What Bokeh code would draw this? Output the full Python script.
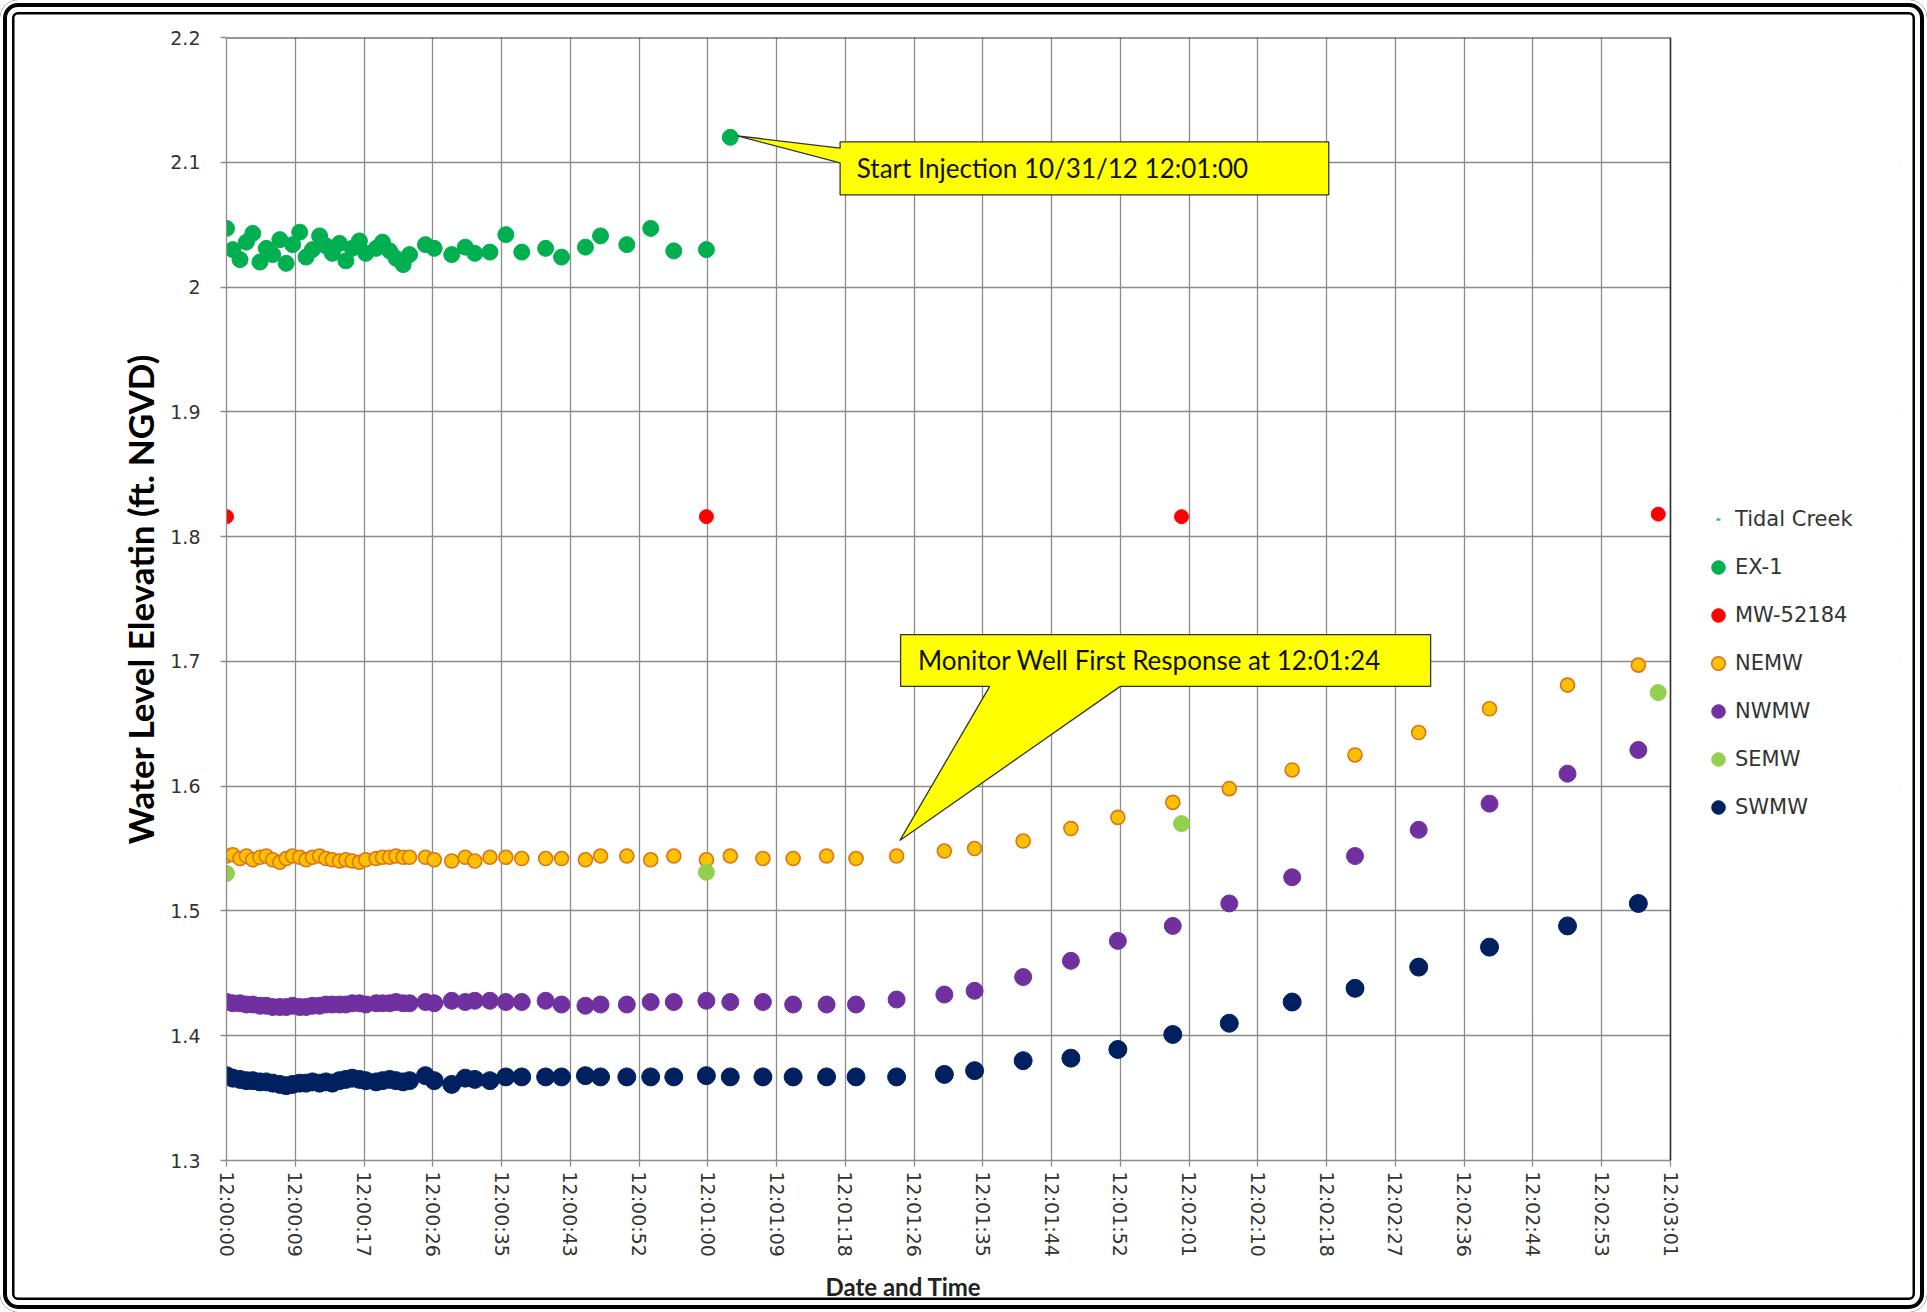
import math
import numpy as np
from bokeh.plotting import figure
from bokeh.models import FixedTicker, Range1d, Label, Legend, LegendItem, Span, Title
from bokeh.embed import file_html
from bokeh.resources import INLINE

# ---------------- data (time = seconds after 12:00:00) ----------------
t_all = [0.0, 0.8, 1.7, 2.5, 3.3, 4.2, 5.0, 5.8, 6.7, 7.5,
         8.3, 9.2, 10.0, 10.8, 11.7, 12.5, 13.3, 14.2, 15.0, 15.8,
         16.7, 17.5, 18.8, 19.6, 20.5, 21.3, 22.2, 23.0,
         25.0, 26.1, 28.3, 30.0, 31.2, 33.1, 35.1, 37.1, 40.1, 42.1,
         45.1, 47.0, 50.3, 53.3, 56.2, 60.3, 63.3,
         67.4, 71.2, 75.4, 79.1, 84.2, 90.2, 94.0, 100.1, 106.1, 112.0,
         118.9, 126.0, 133.9, 141.8, 149.8, 158.7, 168.5, 177.4]

ex1_y = [2.047, 2.030, 2.022, 2.036, 2.043, 2.020, 2.031, 2.026, 2.038, 2.019,
         2.034, 2.044, 2.024, 2.030, 2.041, 2.033, 2.027, 2.035, 2.021, 2.031,
         2.037, 2.027, 2.031, 2.036, 2.029, 2.023, 2.018, 2.026,
         2.034, 2.031, 2.026, 2.032, 2.027, 2.028, 2.042, 2.028, 2.031, 2.024,
         2.032, 2.041, 2.034, 2.047, 2.029, 2.030, 2.120]

nemw_y = [1.544, 1.545, 1.542, 1.544, 1.541, 1.543, 1.544, 1.541, 1.539, 1.542,
          1.544, 1.543, 1.541, 1.543, 1.544, 1.542, 1.541, 1.540, 1.541, 1.540,
          1.539, 1.541, 1.542, 1.543, 1.543, 1.544, 1.543, 1.543,
          1.543, 1.541, 1.540, 1.543, 1.540, 1.543, 1.543, 1.542, 1.542, 1.542,
          1.541, 1.544, 1.544, 1.541, 1.544, 1.541, 1.544,
          1.542, 1.542, 1.544, 1.542, 1.544, 1.548, 1.550, 1.556, 1.566, 1.575,
          1.587, 1.598, 1.613, 1.625, 1.643, 1.662, 1.681, 1.697]

nwmw_y = [1.427, 1.426, 1.426, 1.425, 1.425, 1.424, 1.424, 1.423, 1.423, 1.423,
          1.424, 1.423, 1.423, 1.424, 1.424, 1.425, 1.425, 1.425, 1.425, 1.426,
          1.426, 1.425, 1.426, 1.426, 1.426, 1.427, 1.426, 1.426,
          1.427, 1.426, 1.428, 1.427, 1.428, 1.428, 1.427, 1.427, 1.428, 1.425,
          1.424, 1.425, 1.425, 1.427, 1.427, 1.428, 1.427,
          1.427, 1.425, 1.425, 1.425, 1.429, 1.433, 1.436, 1.447, 1.460, 1.476,
          1.488, 1.506, 1.527, 1.544, 1.565, 1.586, 1.610, 1.629]

swmw_y = [1.368, 1.366, 1.365, 1.364, 1.364, 1.363, 1.363, 1.362, 1.361, 1.360,
          1.361, 1.362, 1.362, 1.363, 1.362, 1.363, 1.362, 1.364, 1.365, 1.366,
          1.365, 1.364, 1.363, 1.364, 1.365, 1.364, 1.363, 1.364,
          1.368, 1.364, 1.361, 1.366, 1.365, 1.364, 1.367, 1.367, 1.367, 1.367,
          1.368, 1.367, 1.367, 1.367, 1.367, 1.368, 1.367,
          1.367, 1.367, 1.367, 1.367, 1.367, 1.369, 1.372, 1.380, 1.382, 1.389,
          1.401, 1.410, 1.427, 1.438, 1.455, 1.471, 1.488, 1.506]

t_minute = [0.0, 60.3, 120.0, 179.9]
mw_y = [1.816, 1.816, 1.816, 1.818]
semw_y = [1.530, 1.531, 1.570, 1.675]

# Tidal Creek: listed in the legend, but no value shows inside the plotted range
tidal_t = np.array([np.nan])
tidal_y = np.array([np.nan])

x_tick_pos = [0.0, 8.64, 17.28, 25.92, 34.56, 43.2, 51.84, 60.48, 69.12, 77.76, 86.4,
              95.04, 103.68, 112.32, 120.96, 129.6, 138.24, 146.88, 155.52, 164.16,
              172.8, 181.44]
x_tick_labels = ["12:00:00", "12:00:09", "12:00:17", "12:00:26", "12:00:35", "12:00:43",
                 "12:00:52", "12:01:00", "12:01:09", "12:01:18", "12:01:26", "12:01:35",
                 "12:01:44", "12:01:52", "12:02:01", "12:02:10", "12:02:18", "12:02:27",
                 "12:02:36", "12:02:44", "12:02:53", "12:03:01"]
y_tick_pos = [1.3, 1.4, 1.5, 1.6, 1.7, 1.8, 1.9, 2.0, 2.1, 2.2]
y_tick_labels = ["1.3", "1.4", "1.5", "1.6", "1.7", "1.8", "1.9", "2", "2.1", "2.2"]

# callout geometry (data coordinates)
callout1_x = [77.1, 138.5, 138.5, 77.1, 77.1, 64.2, 77.1]
callout1_y = [2.1163, 2.1163, 2.0739, 2.0739, 2.0995, 2.1212, 2.1113]
callout1_text = "Start Injection 10/31/12 12:01:00"
callout2_x = [84.7, 151.3, 151.3, 112.3, 84.6, 95.9, 84.7]
callout2_y = [1.7215, 1.7215, 1.6800, 1.6800, 1.5564, 1.6800, 1.6800]
callout2_text = "Monitor Well First Response at 12:01:24"

# ---------------- layout ----------------
W, H = 1927, 1312
PLOT_L, PLOT_R, PLOT_T, PLOT_B = 226, 1670, 37, 1160     # visible plot area (px)
FRAME_R = 1900                                           # frame extended to host the legend
x_min, x_max = 0.0, 181.44
y_min, y_max = 1.3, 2.2
x_end = x_max * (FRAME_R - PLOT_L) / (PLOT_R - PLOT_L)

p = figure(width=W, height=H, output_backend="svg", toolbar_location=None,
           x_range=Range1d(x_min, x_end), y_range=Range1d(y_min, y_max),
           min_border_left=PLOT_L, min_border_right=W - FRAME_R, min_border_top=PLOT_T,
           min_border_bottom=H - PLOT_B)
p.outline_line_color = None
p.background_fill_color = "white"
p.border_fill_color = None
p.styles = {"border-radius": "18px",
            "box-shadow": ("inset 0 0 0 3px #ffffff, inset 0 0 0 7px #000000, "
                           "inset 0 0 0 12px #ffffff, inset 0 0 0 14.5px #000000")}

grid_col = "#8c8c8c"
p.xaxis.ticker = FixedTicker(ticks=x_tick_pos)
p.yaxis.ticker = FixedTicker(ticks=y_tick_pos)
p.xaxis.bounds = (x_min, x_max)
p.xaxis.major_label_overrides = dict(zip(x_tick_pos, x_tick_labels))
p.yaxis.major_label_overrides = dict(zip(y_tick_pos, y_tick_labels))
for ax in (p.xaxis, p.yaxis):
    ax.axis_line_color = grid_col
    ax.axis_line_width = 1.3
    ax.major_tick_line_color = grid_col
    ax.major_tick_line_width = 1.3
    ax.major_tick_in = 0
    ax.major_tick_out = 6
    ax.minor_tick_line_color = None
    ax.major_label_text_font = "DejaVu Sans"
    ax.major_label_text_font_size = "19px"
    ax.major_label_text_color = "#333333"
p.xaxis.major_label_orientation = -math.pi / 2
p.xaxis.major_label_standoff = 5
p.yaxis.major_label_standoff = 20

p.yaxis.axis_label = "Water Level Elevatin (ft. NGVD)"
p.yaxis.axis_label_text_font = "Lato"
p.yaxis.axis_label_text_font_style = "bold"
p.yaxis.axis_label_text_font_size = "35px"
p.yaxis.axis_label_text_color = "#000000"
p.yaxis.axis_label_standoff = 6

p.xgrid.grid_line_color = grid_col
p.ygrid.grid_line_color = grid_col
p.xgrid.grid_line_width = 1.3
p.ygrid.grid_line_width = 1.3

# blank out the extension of the frame to the right of the plot area
p.quad(left=[x_max], right=[x_end], bottom=[y_min], top=[y_max],
       fill_color="white", line_color=None)
# dark top / right edges of the plot area
p.segment(x0=[x_min], y0=[y_max], x1=[x_max], y1=[y_max], line_color="#303030", line_width=1.8)
p.add_layout(Span(location=x_max, dimension="height", line_color="#303030", line_width=1.6))

# ---------------- series ----------------
r_tidal = p.line(tidal_t, tidal_y, line_color="#4BACC6", line_width=2.5,
                 line_dash="0 15 4 40")
r_ex1 = p.scatter(t_all[:len(ex1_y)], ex1_y, marker="circle", size=16,
                  fill_color="#00B050", line_color="#00B050")
r_mw = p.scatter(t_minute, mw_y, marker="circle", size=14,
                 fill_color="#FF0000", line_color="#FF0000")
r_nemw = p.scatter(t_all, nemw_y, marker="circle", size=14,
                   fill_color="#FFC000", line_color="#D9741A", line_width=1.6)
r_nwmw = p.scatter(t_all, nwmw_y, marker="circle", size=17,
                   fill_color="#7030A0", line_color="#7030A0")
r_semw = p.scatter(t_minute, semw_y, marker="circle", size=16,
                   fill_color="#92D050", line_color="#92D050")
r_swmw = p.scatter(t_all, swmw_y, marker="circle", size=18,
                   fill_color="#002060", line_color="#002060")

# ---------------- callouts ----------------
p.patch(callout1_x, callout1_y, fill_color="#FFFF00", line_color="#333333", line_width=1.3)
p.patch(callout2_x, callout2_y, fill_color="#FFFF00", line_color="#333333", line_width=1.3)
p.add_layout(Label(x=79.2, y=2.0951, text=callout1_text, text_font="Lato",
                   text_font_size="26px", text_color="#111111", text_baseline="middle"))
p.add_layout(Label(x=86.9, y=1.7008, text=callout2_text, text_font="Lato",
                   text_font_size="26px", text_color="#111111", text_baseline="middle"))

# x-axis title (below the tick labels, left of centre as in the original)
p.add_layout(Title(text="Date and Time", align="left", offset=599,
                   text_font="Lato", text_font_style="bold", text_font_size="24px",
                   text_color="#222222", standoff=21), "below")

# ---------------- legend ----------------
legend = Legend(items=[LegendItem(label="Tidal Creek", renderers=[r_tidal]),
                       LegendItem(label="EX-1", renderers=[r_ex1]),
                       LegendItem(label="MW-52184", renderers=[r_mw]),
                       LegendItem(label="NEMW", renderers=[r_nemw]),
                       LegendItem(label="NWMW", renderers=[r_nwmw]),
                       LegendItem(label="SEMW", renderers=[r_semw]),
                       LegendItem(label="SWMW", renderers=[r_swmw])],
                location=(1475, 335), orientation="vertical")
legend.border_line_color = None
legend.background_fill_alpha = 0
legend.padding = 0
legend.margin = 0
legend.spacing = 12
legend.glyph_width = 34
legend.glyph_height = 36
legend.label_height = 36
legend.label_standoff = 0
legend.label_text_font = "DejaVu Sans"
legend.label_text_font_size = "21px"
legend.label_text_color = "#333333"
p.add_layout(legend, "center")

open("out.html", "w").write(file_html(p, INLINE))
